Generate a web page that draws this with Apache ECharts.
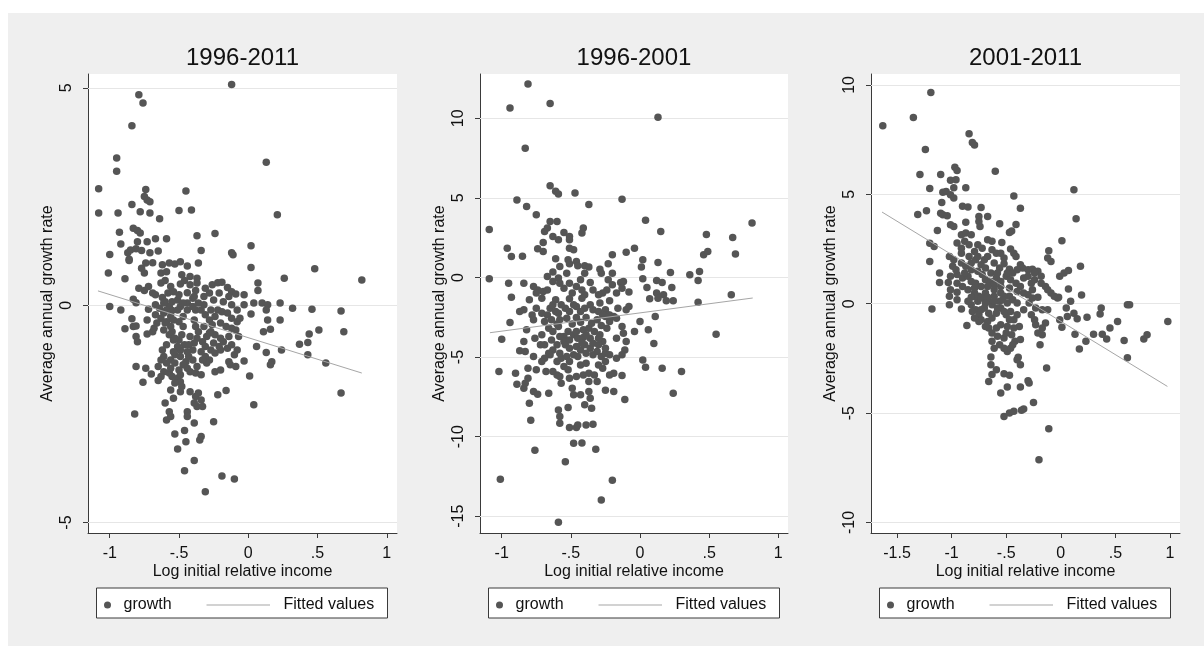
<!DOCTYPE html>
<html>
<head>
<meta charset="utf-8">
<script src="https://cdn.jsdelivr.net/npm/echarts@6/dist/echarts.min.js"></script>
<style>
  html, body { margin: 0; padding: 0; background: #ffffff; }
  #chart { width: 1204px; height: 646px; }
</style>
</head>
<body>
<div id="chart"></div>
<script>
// Growth vs. log initial relative income, three periods, each with an OLS fit.

const panelTitles = ['1996-2011', '1996-2001', '2001-2011'];
const xAxisTitle = 'Log initial relative income';
const yAxisTitle = 'Average annual growth rate';
const legendNames = ['growth', 'Fitted values'];

const xTicks96 = [-1, -0.5, 0, 0.5, 1];
const xTicks01 = [-1.5, -1, -0.5, 0, 0.5, 1];
const yTicks9611 = [-5, 0, 5];
const yTicks9601 = [-15, -10, -5, 0, 5, 10];
const yTicks0111 = [-10, -5, 0, 5, 10];

// [log initial relative income, average annual growth rate]
const growth9611 = [
  [-0.12,5.08],[-0.79,4.84],[-0.76,4.65],[-0.84,4.13],[-0.95,3.39],[-0.95,3.08],[0.13,3.29],[-1.08,2.68],[-1.08,2.12],
  [-0.74,2.66],[-0.75,2.5],[-0.73,2.42],[-0.71,2.38],[-0.45,2.63],[-0.84,2.32],[-0.94,2.12],[-0.78,2.15],[-0.71,2.12],
  [-0.5,2.18],[-0.41,2.19],[0.21,2.08],[-0.64,1.99],[-0.83,1.77],[-0.8,1.72],[-0.78,1.66],[-0.93,1.68],[-0.37,1.6],
  [-0.24,1.65],[-0.59,1.53],[-0.67,1.53],[-0.73,1.46],[-0.8,1.46],[-0.92,1.41],[0.02,1.37],[-0.34,1.26],[-1.0,1.17],
  [-0.87,1.21],[-0.85,1.27],[-0.81,1.3],[-0.77,1.26],[-0.71,1.21],[-0.65,1.25],[-0.86,1.06],[-0.12,1.21],[-0.11,1.16],
  [-0.86,1.03],[-0.77,0.85],[-0.74,0.97],[-0.69,0.98],[-0.75,0.74],[-0.62,0.93],[-0.57,0.97],[-0.53,0.95],[-0.49,1.0],
  [-0.44,0.9],[-0.36,0.97],[-0.63,0.74],[-0.59,0.77],[-0.48,0.7],[-0.42,0.66],[-0.37,0.62],[-0.89,0.61],[-1.01,0.74],
  [0.02,0.87],[0.26,0.62],[0.48,0.84],[0.82,0.58],[0.07,0.51],[0.07,0.34],
  [-0.79,0.39],[-0.75,0.34],[-0.72,0.43],[-0.69,0.28],[-0.67,0.24],[-0.63,0.51],[-0.6,0.57],[-0.56,0.43],[-0.58,0.28],
  [-0.54,0.31],[-0.49,0.49],[-0.46,0.57],[-0.42,0.47],[-0.37,0.51],[-0.38,0.34],[-0.44,0.29],[-0.31,0.39],[-0.26,0.47],
  [-0.22,0.52],[-0.19,0.53],[-0.15,0.41],[-0.12,0.31],[-0.09,0.26],[-0.03,0.24],[-0.81,0.06],[-0.83,0.14],[-0.62,0.18],
  [-0.51,0.12],[-0.4,0.16],[-0.32,0.2],[-0.28,0.28],[-0.21,0.28],[-0.14,0.2],[-0.25,0.12],
  [-1.0,-0.03],[-0.92,-0.11],[-0.72,-0.09],[-0.67,0.01],[-0.64,-0.07],[-0.6,0.08],[-0.57,-0.03],[-0.55,-0.12],[-0.49,-0.03],
  [-0.44,0.05],[-0.44,-0.11],[-0.38,-0.11],[-0.34,-0.11],[-0.22,-0.11],[-0.19,-0.15],[-0.15,-0.18],[-0.08,-0.11],[-0.03,0.01],
  [0.04,0.05],[0.1,0.05],[0.14,0.01],[0.13,-0.11],[0.23,0.05],[0.32,-0.07],[0.46,-0.09],[0.67,-0.13],[-0.84,-0.31],
  [-0.73,-0.34],[-0.61,-0.18],[-0.63,-0.3],[-0.5,-0.38],[-0.47,-0.26],[-0.31,-0.22],[-0.28,-0.34],[-0.12,-0.3],[-0.08,-0.38],
  [-0.06,-0.3],[0.02,-0.2],[0.14,-0.34],[0.23,-0.34],[-0.59,-0.38],[-0.39,-0.34],
  [-0.83,-0.49],[-0.81,-0.48],[-0.89,-0.54],[-0.81,-0.72],[-0.8,-0.84],[-0.73,-0.66],[-0.69,-0.61],[-0.68,-0.53],[-0.56,-0.49],
  [-0.61,-0.57],[-0.57,-0.68],[-0.54,-0.8],[-0.59,-0.91],[-0.47,-0.49],[-0.48,-0.68],[-0.5,-0.8],[-0.46,-0.91],[-0.49,-1.03],
  [-0.38,-0.49],[-0.36,-0.61],[-0.37,-0.76],[-0.39,-0.87],[-0.4,-1.03],[-0.26,-0.45],[-0.27,-0.61],[-0.24,-0.68],[-0.3,-0.72],
  [-0.2,-0.76],[-0.33,-0.84],[-0.31,-0.95],[-0.27,-1.03],[-0.24,-1.1],[-0.2,-1.03],[-0.15,-0.99],[-0.12,-0.91],[-0.07,-0.72],
  [-0.09,-0.57],[0.16,-0.55],[0.11,-0.61],[0.06,-0.95],[0.13,-1.09],[0.24,-1.03],[0.51,-0.57],[0.44,-0.66],[0.69,-0.61],
  [0.37,-0.9],[0.43,-0.86],[-0.62,-1.03],[-0.08,-1.03],[-0.1,-1.14],
  [-0.61,-1.18],[-0.56,-1.26],[-0.53,-1.14],[-0.63,-1.26],[-0.65,-1.41],[-0.61,-1.53],[-0.57,-1.56],[-0.55,-1.64],[-0.51,-1.68],
  [-0.49,-1.76],[-0.48,-1.87],[-0.49,-1.99],[-0.45,-1.3],[-0.43,-1.18],[-0.44,-1.45],[-0.42,-1.53],[-0.38,-1.56],[-0.34,-1.6],
  [-0.28,-1.26],[-0.31,-1.18],[-0.3,-1.33],[-0.24,-1.53],[-0.2,-1.49],[-0.14,-1.3],[-0.13,-1.37],[-0.09,-1.41],[-0.03,-1.28],
  [0.43,-1.14],[0.56,-1.33],[0.17,-1.3],[0.16,-1.37],[0.01,-1.63],[-0.81,-1.41],[-0.74,-1.45],[-0.7,-1.58],[-0.76,-1.77],
  [-0.65,-1.73],[-0.63,-1.64],[-0.42,-1.99],[-0.38,-2.1],[-0.36,-2.02],[-0.34,-2.18],[-0.37,-2.33],[-0.33,-2.33],[-0.39,-2.25],
  [-0.54,-2.14],[-0.22,-2.06],[-0.16,-1.96],[0.67,-2.02],[0.04,-2.29],
  [-0.82,-2.5],[-0.6,-2.25],[-0.57,-2.45],[-0.56,-2.56],[-0.59,-2.64],[-0.44,-2.45],[-0.44,-2.56],[-0.39,-2.71],[-0.25,-2.68],
  [-0.46,-2.88],[-0.53,-2.96],[-0.45,-3.14],[-0.34,-3.02],[-0.35,-3.1],[-0.51,-3.31],[-0.39,-3.57],[-0.46,-3.81],[-0.19,-3.93],
  [-0.1,-4.0],[-0.31,-4.29],
  [-0.61,0.05],[-0.59,-0.11],[-0.56,-0.26],[-0.6,-0.41],[-0.55,-0.61],[-0.53,-0.76],[-0.51,-0.95],[-0.54,-1.07],[-0.49,-1.18],
  [-0.47,-1.37],[-0.5,-1.49],[-0.53,-1.33],[-0.56,-1.45],[-0.59,-1.33],[-0.42,-0.72],[-0.43,-0.91],[-0.44,-1.07],[-0.4,-1.26],
  [-0.37,-1.41],[-0.33,-1.26],[-0.34,-1.07],[-0.32,-0.49],[-0.28,-0.64],[-0.25,-0.87],[-0.21,-0.95],[-0.18,-0.84],[-0.14,-0.72],
  [-0.12,-0.53],[-0.16,-0.49],[-0.2,-0.41],[-0.24,-0.26],[-0.27,-0.11],[-0.32,0.01],[-0.36,0.05],[-0.4,-0.03],[-0.47,0.05],
  [-0.51,-0.11],[-0.54,-0.34],[-0.66,-0.41],[-0.67,-0.22],[-0.55,0.08],[-0.5,0.24],[-0.39,0.2],[-0.18,0.08],[-0.12,0.01],
  [-0.49,-1.6],[-0.53,-1.79],[-0.56,-1.95]
];

const growth9601 = [
  [-0.81,12.15],[-0.94,10.64],[-0.65,10.92],[0.13,10.06],[-0.83,8.11],[-0.65,5.76],[-0.61,5.41],[-0.59,5.24],[-0.47,5.3],
  [-0.89,4.86],[-0.82,4.46],[-0.37,4.59],[-0.13,4.92],[-0.75,3.94],[-1.09,3.02],[-0.65,3.52],[-0.6,3.52],[0.04,3.6],
  [0.15,2.89],[0.81,3.42],[-0.69,2.89],[-0.67,3.1],[-0.63,2.58],[-0.59,2.37],[-0.55,2.83],[-0.51,2.58],[-0.51,2.37],
  [-0.41,3.1],[-0.42,2.79],[-0.7,2.2],[-0.96,1.84],[-0.93,1.32],[-0.85,1.34],[-0.74,1.8],[-0.7,1.63],[-0.51,1.84],
  [-0.48,1.74],[-0.61,1.17],[-0.58,0.69],[-0.52,1.11],[-0.51,0.86],[-0.46,1.01],[-0.45,0.73],[-0.4,0.73],[-0.37,0.65],
  [-0.29,0.52],[-0.28,0.27],[-0.23,0.86],[-0.2,1.42],[-0.2,0.27],[-0.1,1.59],[-0.04,1.84],[0.02,1.11],[0.01,0.65],
  [0.13,0.94],[0.22,0.31],[0.36,0.17],[0.43,0.38],[0.48,2.7],[0.67,2.51],[0.69,1.47],[0.46,1.42],[0.49,1.63],
  [-0.63,0.34],[-1.09,-0.08],[-0.95,-0.36],[-0.84,-0.36],[-0.93,-1.24],[-0.77,-0.57],[-0.74,-0.78],[-0.7,-0.88],[-0.59,-0.04],
  [-0.58,-0.36],[-0.63,-0.25],[-0.46,-0.57],[-0.42,-0.78],[-0.49,-0.98],[-0.4,-1.09],[-0.36,-0.31],[-0.23,-0.15],[-0.2,-0.46],
  [-0.24,-0.78],[-0.27,-0.98],[-0.14,-0.31],[-0.12,-0.25],[-0.08,-0.92],[0.02,-0.08],[0.05,-0.63],[0.12,-0.19],[0.16,-0.31],
  [0.23,-0.63],[0.12,-0.98],[0.17,-1.09],[0.42,-0.19],[0.66,-1.09],
  [-0.8,-1.4],[-0.71,-1.3],[-0.61,-1.4],[-0.51,-1.34],[-0.42,-1.3],[-0.22,-1.47],[0.07,-1.34],[0.13,-1.3],[0.19,-1.47],
  [0.24,-1.47],[0.42,-1.55],[-0.87,-2.14],[-0.84,-2.03],[-0.94,-2.83],[-1.0,-3.88],[-0.78,-2.35],[-0.77,-2.66],[-0.65,-1.93],
  [-0.63,-1.72],[-0.59,-2.24],[-0.58,-2.66],[-0.54,-1.93],[-0.51,-2.14],[-0.46,-1.82],[-0.4,-1.93],[-0.34,-2.03],[-0.3,-2.14],
  [-0.25,-2.03],[-0.22,-2.35],[-0.16,-1.93],[-0.1,-2.03],[-0.08,-1.82],[0.0,-2.77],[0.06,-3.29],[0.11,-2.45],[-0.04,-3.39],
  [-0.82,-3.29],[-0.84,-4.02],[-0.87,-4.61],[-0.83,-4.65],[-0.76,-3.81],[-0.72,-4.23],[-0.77,-4.97],[-0.66,-3.19],[-0.63,-3.39],
  [-0.59,-3.08],[-0.55,-3.71],[-0.52,-3.39],[-0.48,-3.6],[-0.45,-3.81],[-0.41,-3.29],[-0.37,-3.19],[-0.36,-3.81],[-0.33,-3.39],
  [-0.29,-3.6],[-0.27,-4.02],[-0.24,-3.19],[-0.22,-2.77],[-0.23,-2.35],[-0.19,-2.45],[-0.1,-4.02],[-0.11,-4.55],[-0.13,-4.86],
  [-0.17,-5.07],[0.1,-4.15],[0.55,-3.56],[-0.54,-4.23],[-0.51,-4.44],[-0.46,-4.34],[-0.48,-4.86],[-0.43,-4.55],[-0.4,-4.23],
  [-0.36,-4.44],[-0.34,-4.86],[-0.31,-4.65],[-0.28,-4.97],[-0.25,-4.76],[-0.3,-4.23],[-0.63,-4.55],[-0.65,-4.86],[-0.69,-5.07],
  [-0.71,-5.28],[-0.6,-5.28],[-0.57,-5.07],[-0.53,-4.97],[0.02,-5.18],[0.04,-5.64],[0.16,-5.7],[0.3,-5.91],[-1.02,-5.91],
  [-0.9,-6.01],[-0.81,-5.7],[-0.75,-5.8],[-0.68,-5.91],[-0.81,-6.33],[-0.83,-6.64],[-0.89,-6.71],[-0.84,-6.96],[-0.77,-7.17],
  [-0.74,-7.33],[-0.66,-7.27],[-0.6,-6.12],[-0.57,-6.64],[-0.58,-6.22],[-0.52,-5.8],[-0.49,-6.96],[-0.48,-7.37],[-0.43,-7.37],
  [-0.46,-6.22],[-0.41,-6.12],[-0.37,-6.01],[-0.33,-6.12],[-0.31,-6.54],[-0.27,-5.7],[-0.22,-6.12],[-0.19,-6.01],[-0.37,-7.17],
  [-0.36,-7.59],[-0.4,-8.0],[-0.35,-8.21],[-0.25,-7.08],[-0.19,-7.17],[-0.13,-6.16],[-0.11,-7.67],[0.24,-7.27],[-0.8,-7.9],
  [-0.79,-8.97],[-0.59,-8.32],[-0.58,-8.74],[-0.58,-9.16],[-0.52,-8.17],[-0.51,-9.43],[-0.46,-9.43],[-0.45,-9.26],[-0.39,-9.26],
  [-0.34,-9.22],[-0.48,-10.41],[-0.42,-10.39],[-0.32,-10.79],[-0.76,-10.85],[-0.54,-11.57],[-1.01,-12.68],[-0.2,-12.74],[-0.28,-13.98],
  [-0.59,-15.38],
  [-0.67,-2.35],[-0.64,-2.66],[-0.6,-2.93],[-0.53,-2.56],[-0.49,-2.93],[-0.46,-2.51],[-0.43,-2.81],[-0.39,-2.51],[-0.35,-2.87],
  [-0.31,-2.66],[-0.28,-3.02],[-0.25,-2.45],[-0.55,-4.02],[-0.41,-3.77],[-0.51,-5.28],[-0.43,-5.49],[-0.39,-5.39],[-0.37,-6.54],
  [-0.75,-0.98],[-0.67,-0.78],[-0.55,-0.67],[-0.51,-0.36],[-0.43,-0.15],[-0.34,-0.78],[-0.3,-1.09],[-0.17,-0.98],[-0.13,-0.67],
  [-0.4,0.27],[-0.53,0.27],[-0.67,0.06],
  [-0.75,-1.93],[-0.71,-2.24],[-0.69,-2.77],[-0.61,-2.14],[-0.57,-1.72],[-0.48,-1.72],[-0.43,-2.14],[-0.36,-1.72],[-0.29,-1.61],
  [-0.27,-2.35],[-0.17,-2.56],[-0.13,-3.08],[-0.17,-3.81],[-0.12,-3.5],[-0.71,-3.6],[-0.69,-4.23],[-0.64,-3.92],[-0.6,-4.23],
  [-0.58,-3.71],[-0.51,-3.92],[-0.46,-3.39],[-0.42,-4.13],[-0.39,-3.6],[-0.34,-4.13],[-0.3,-3.81],[-0.25,-4.44],[-0.22,-4.86],
  [-0.39,-4.76],[-0.45,-4.97],[-0.58,-4.76],[-0.66,-4.76],[-0.3,-5.49],[-0.25,-5.28],[-0.55,-5.59],[-0.63,-5.91],[-0.51,-6.33]
];

const growth0111 = [
  [-1.19,9.66],[-1.63,8.13],[-1.35,8.51],[-1.24,7.05],[-0.84,7.77],[-0.81,7.37],[-0.79,7.26],[-1.29,5.91],[-1.1,5.91],
  [-0.97,6.24],[-0.95,6.09],[-0.6,6.06],[-1.2,5.27],[-1.01,5.64],[-0.96,5.67],[-0.87,5.3],[-0.98,5.3],[-1.08,5.09],
  [-1.05,5.13],[-1.01,4.98],[-0.98,4.83],[-1.09,4.63],[0.12,5.21],[-0.43,4.92],[-0.37,4.36],[-1.31,4.08],[-1.23,4.25],
  [-1.1,4.14],[-1.08,4.07],[-1.04,4.02],[-0.9,4.45],[-0.85,4.42],[-0.73,4.4],[0.14,3.88],[-1.01,3.61],[-0.98,3.53],
  [-0.87,3.72],[-0.75,3.76],[-0.74,3.53],[-0.75,3.99],[-0.67,3.99],[-0.56,3.66],[-0.41,3.62],[-0.47,3.26],[-0.45,3.32],
  [-1.13,3.35],[-0.91,3.15],[-0.87,3.23],[-0.82,3.15],[-0.67,2.92],[-0.63,2.85],[-0.54,2.8],[0.01,2.88],[-1.2,2.76],
  [-1.16,2.62],[-0.95,2.77],[-0.91,2.54],[-0.88,2.85],[-0.84,2.7],[-0.76,2.7],[-0.72,2.54],[-0.79,2.39],[-0.63,2.47],
  [-0.59,2.31],[-0.55,2.31],[-0.46,2.5],[-0.43,2.31],[-0.41,2.16],[-0.11,2.42],[-0.12,2.09],[-0.09,1.93],[-1.2,1.93],
  [-1.02,2.16],[-0.98,2.01],[-0.99,1.71],[-0.91,1.86],[-0.87,1.71],[-0.82,1.86],[-0.78,2.01],[-0.73,1.78],[-0.69,1.63],
  [-0.61,1.86],[-0.56,1.63],[-0.52,1.83],[-0.47,1.58],[-0.37,1.78],[-0.35,1.63],[-0.3,1.55],[-0.26,1.58],[-0.21,1.48],
  [-0.01,1.25],[0.03,1.4],[0.07,1.52],[0.18,1.71],[-1.11,1.4],[-1.11,0.97],[-1.03,0.97],[-1.01,1.25],[-0.95,1.33],
  [-0.9,1.17],[-0.85,1.25],[-0.82,1.02],[-0.78,0.94],[-0.72,1.33],[-0.69,1.1],[-0.64,1.02],[-0.59,1.17],[-0.55,1.02],
  [-0.5,1.25],[-0.46,1.1],[-0.41,0.94],[-0.34,1.17],[-0.27,0.94],[-0.24,1.1],[-0.18,0.94],[-0.14,0.79],[0.07,0.67],
  [0.19,0.4],[-1.01,0.64],[-0.95,0.52],[-1.02,0.34],[-0.85,0.64],[-0.79,0.49],[-0.75,0.34],[-0.69,0.49],[-0.61,0.64],
  [-0.55,0.49],[-0.47,0.34],[-0.4,0.56],[-0.3,0.41],[-0.26,0.64],[-0.21,0.3],[-0.09,0.49],[-0.02,0.3],
  [-1.18,-0.24],[-1.02,-0.05],[-0.95,0.18],[-0.91,-0.24],[-0.86,-0.99],[-0.82,-0.05],[-0.78,-0.27],[-0.75,-0.5],[-0.76,0.11],
  [-0.7,-0.2],[-0.66,-0.43],[-0.73,-0.73],[-0.67,-0.81],[-0.63,-0.65],[-0.59,-0.43],[-0.55,-0.2],[-0.5,-0.5],[-0.46,-0.35],
  [-0.43,-0.73],[-0.66,-1.11],[-0.63,-1.34],[-0.63,-1.72],[-0.58,-1.49],[-0.52,-1.57],[-0.5,-1.34],[-0.45,-1.42],[-0.42,-1.72],
  [-0.49,-2.18],[-0.46,-2.03],[-0.37,-1.64],[-0.38,-1.04],[-0.64,-2.44],[-0.64,-2.79],[-0.63,-3.24],[-0.66,-3.55],[-0.59,-3.02],
  [-0.52,-3.2],[-0.47,-3.27],[-0.4,-2.56],[-0.37,-2.79],[-0.39,-2.45],[-0.49,-3.81],[-0.37,-3.81],[-0.55,-4.08],[-0.29,-3.62],
  [-0.3,-3.52],[-0.25,-4.51],[-0.34,-4.81],[-0.36,-4.87],[-0.52,-5.15],[-0.47,-5.0],[-0.43,-4.92],[-0.11,-5.71],[-0.2,-7.13],
  [-0.13,-2.94],[-0.19,-1.87],[-0.24,-0.73],[-0.23,-0.96],[-0.21,-1.34],[-0.17,-1.42],[-0.14,-0.88],[-0.34,-0.27],[-0.29,0.03],
  [-0.26,0.26],[-0.17,-0.27],[-0.12,-0.27],[-0.03,0.26],[0.09,0.11],[0.01,-1.08],[-0.01,-0.73],[0.05,-0.2],[0.06,-0.58],
  [0.12,-0.43],[0.15,-0.69],[0.24,-0.62],[0.13,-1.39],[0.23,-1.72],[0.17,-2.07],[0.3,-1.39],[0.37,-0.2],[0.36,-0.47],
  [0.45,-1.11],[0.38,-1.39],[0.42,-1.61],[0.52,-0.81],[0.58,-1.68],[0.61,-0.05],[0.63,-0.05],[0.61,-2.47],[0.76,-1.61],
  [0.79,-1.42],[0.98,-0.81],
  [-0.79,0.34],[-0.73,0.26],[-0.67,0.18],[-0.61,0.34],[-0.56,0.11],[-0.49,0.03],[-0.44,0.18],[-0.4,0.03],[-0.63,-0.05],
  [-0.91,2.31],[-0.84,2.16],[-0.76,2.16],[-0.7,2.01],[-0.67,2.16],[-0.52,2.09],[-0.49,1.4],[-0.44,1.4],[-0.4,1.55],
  [-0.3,1.25],[-0.24,1.4],[-0.18,1.25],[-0.76,1.48],[-0.82,1.55],[-0.88,1.4],[-0.96,1.55],[-0.64,1.4],[-0.58,1.4],
  [-0.55,0.79],[-0.61,0.87],[-0.67,0.79],[-0.73,0.79],[-0.79,0.72],[-0.9,0.79],[-0.95,0.94],[-0.47,0.72],[-0.37,0.79],
  [-0.34,0.49],[-0.12,0.64],[-0.06,0.34],[-0.52,0.34],[-0.67,0.3],[-0.82,0.3],
  [-0.85,0.11],[-0.81,-0.35],[-0.73,-0.27],[-0.69,0.03],[-0.61,0.11],[-0.58,-0.2],[-0.53,0.18],[-0.52,-0.35],[-0.47,-0.73],
  [-0.55,-0.96],[-0.59,-1.11],[-0.49,-1.04],[-0.43,-1.11],[-0.4,-0.5],[-0.56,-1.87],[-0.52,-2.03],[-0.44,-1.87],[-0.61,-2.03],
  [-0.69,-1.04],[-0.75,-0.81],[-0.79,-0.65],[-0.27,-0.5],[-0.23,-0.2],[-0.17,-1.11]
];

// Fitted regression lines: [x, fitted growth] at the ends of each sample
const fitted9611 = [[-1.085, 0.33], [0.82, -1.56]];
const fitted9601 = [[-1.085, -3.47], [0.815, -1.29]];
const fitted0111 = [[-1.637, 4.19], [0.976, -3.78]];

const FONT = '"Liberation Sans", Arial, Helvetica, sans-serif';
const TEXT = '#111111';
const MARKER = '#555555';
const FITLINE = '#a6a6a6';

const panels = [
  { title: panelTitles[0], points: growth9611, fit: fitted9611, xTicks: xTicks96, yTicks: yTicks9611,
    left: 88, width: 309, xMin: -1.157, xMax: 1.074, yMin: -5.24, yMax: 5.32 },
  { title: panelTitles[1], points: growth9601, fit: fitted9601, xTicks: xTicks96, yTicks: yTicks9601,
    left: 480, width: 308, xMin: -1.157, xMax: 1.07, yMin: -16.05, yMax: 12.78 },
  { title: panelTitles[2], points: growth0111, fit: fitted0111, xTicks: xTicks01, yTicks: yTicks0111,
    left: 871, width: 309, xMin: -1.738, xMax: 1.0915, yMin: -10.48, yMax: 10.5 }
];
const PLOT_TOP = 74;
const PLOT_HEIGHT = 459;

// Stata-style tick labels: drop the leading zero (".5", "-.5")
function tickText(v) {
  return String(v).replace(/^(-?)0\./, '$1.');
}

const option = {
  animation: false,
  backgroundColor: '#ffffff',
  textStyle: { fontFamily: FONT },
  title: [],
  grid: [],
  xAxis: [],
  yAxis: [],
  legend: [],
  series: [],
  graphic: [
    { type: 'rect', z: -10, silent: true,
      shape: { x: 8, y: 13, width: 1196, height: 633 },
      style: { fill: '#efefef' } }
  ]
};

panels.forEach(function (p, i) {
  const axisLine = { show: true, onZero: false, lineStyle: { color: '#3a3a3a', width: 1 } };
  const tickLine = { show: true, inside: false, length: 5, lineStyle: { color: '#3a3a3a', width: 1 } };
  const labelText = { fontFamily: FONT, fontSize: 16, color: TEXT };

  option.title.push({
    text: p.title,
    left: p.left + p.width / 2,
    top: 46,
    textAlign: 'center',
    padding: 0,
    textStyle: { fontFamily: FONT, fontSize: 24, fontWeight: 'normal', color: TEXT }
  });

  option.grid.push({
    left: p.left, top: PLOT_TOP, width: p.width, height: PLOT_HEIGHT,
    show: true, backgroundColor: '#ffffff', borderWidth: 0, containLabel: false
  });

  option.xAxis.push({
    type: 'value', gridIndex: i, min: p.xMin, max: p.xMax,
    name: xAxisTitle, nameLocation: 'middle', nameGap: 31, nameMoveOverlap: false,
    nameTextStyle: labelText,
    axisLine: axisLine,
    axisTick: Object.assign({ customValues: p.xTicks }, tickLine),
    axisLabel: Object.assign({ customValues: p.xTicks, margin: 13, formatter: tickText }, labelText),
    splitLine: { show: false }
  });

  option.yAxis.push({
    type: 'value', gridIndex: i, min: p.yMin, max: p.yMax,
    name: yAxisTitle, nameLocation: 'middle', nameGap: 32, nameRotate: 90, nameMoveOverlap: false,
    nameTextStyle: labelText,
    axisLine: axisLine,
    axisTick: Object.assign({ customValues: p.yTicks }, tickLine),
    axisLabel: Object.assign({ customValues: p.yTicks, margin: 13, rotate: 90, formatter: tickText }, labelText),
    splitLine: { show: false }
  });

  // horizontal grid lines at the labelled y values
  option.series.push({
    name: 'gridlines', type: 'line', xAxisIndex: i, yAxisIndex: i, data: [], z: 1, silent: true,
    markLine: {
      silent: true, symbol: 'none', z: 1, animation: false,
      label: { show: false },
      emphasis: { disabled: true },
      lineStyle: { color: '#e6e6e6', width: 1, type: 'solid' },
      data: p.yTicks.map(function (v) { return { yAxis: v }; })
    }
  });

  option.series.push({
    name: legendNames[0], type: 'scatter', xAxisIndex: i, yAxisIndex: i, z: 6,
    symbol: 'circle', symbolSize: 7.5,
    itemStyle: { color: MARKER, opacity: 1 },
    emphasis: { disabled: true },
    data: p.points
  });

  option.series.push({
    name: legendNames[1], type: 'line', xAxisIndex: i, yAxisIndex: i, z: 7,
    symbol: 'none', showSymbol: false,
    lineStyle: { color: FITLINE, width: 1 },
    itemStyle: { color: FITLINE },
    emphasis: { disabled: true },
    data: p.fit
  });

  // legend frame under each panel
  const boxLeft = p.left + 8.5;
  option.graphic.push({
    type: 'rect', z: 0, silent: true,
    shape: { x: boxLeft, y: 588, width: 291, height: 30 },
    style: { fill: '#ffffff', stroke: '#3a3a3a', lineWidth: 1 }
  });

  option.legend.push({
    data: [{ name: legendNames[0], icon: 'circle' }],
    left: boxLeft + 7.5, top: 597, padding: 0,
    itemWidth: 7, itemHeight: 7, selectedMode: false,
    textStyle: { fontFamily: FONT, fontSize: 16, color: TEXT, padding: [0, 0, 0, 7.5] }
  });
  option.legend.push({
    data: [{ name: legendNames[1], icon: 'rect', itemStyle: { color: FITLINE } }],
    left: boxLeft + 110, top: 597, padding: 0,
    itemWidth: 63.5, itemHeight: 1, selectedMode: false,
    textStyle: { fontFamily: FONT, fontSize: 16, color: TEXT, padding: [0, 0, 0, 8.5] }
  });
});

const chart = echarts.init(document.getElementById('chart'), null, { renderer: 'canvas' });
chart.setOption(option);
</script>
</body>
</html>
